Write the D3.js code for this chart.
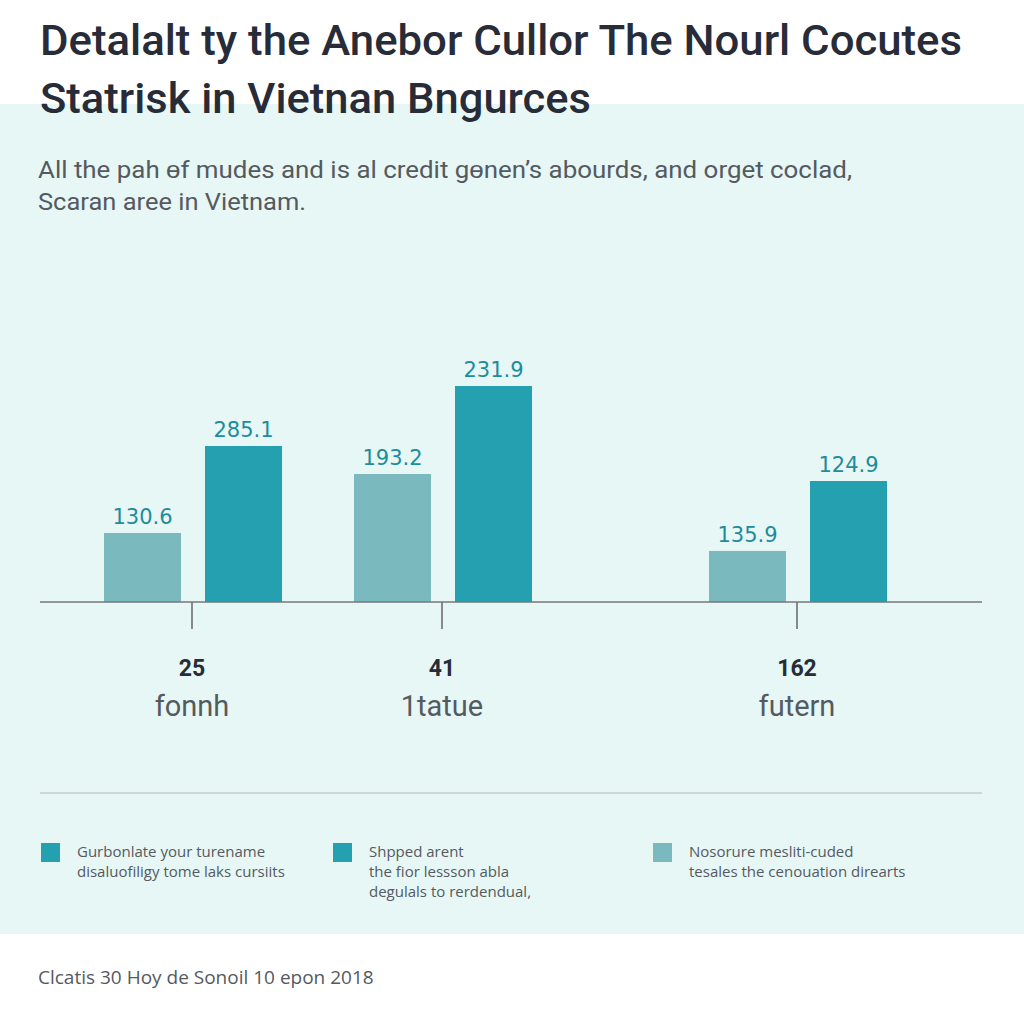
<!DOCTYPE html>
<html><head><meta charset="utf-8">
<script src="https://cdn.jsdelivr.net/npm/d3@7/dist/d3.min.js"></script>
<style>html,body{margin:0;padding:0;background:#fff;}svg{display:block;}</style>
</head><body><svg id="c" width="1024" height="1024"></svg>
<script>
// ---- data ----
const categories = ["fonnh", "1tatue", "futern"];
const categoryCounts = ["25", "41", "162"];
const seriesA = [74.1, 137.4, 54.8];    // light bars (height)
const seriesB = [167.5, 231.9, 129.9];  // dark bars
const labelsA = ["130.6", "193.2", "135.9"];
const labelsB = ["285.1", "231.9", "124.9"];
const titleLines = ["Detalalt ty the Anebor Cullor The Nourl Cocutes", "Statrisk in Vietnan Bngurces"];
const subtitleLines = ["All the pah \u0275f mudes and is al credit g\u0275nen\u2019s abourds, and orget coclad,", "Scaran aree in Vietnam."];
const legendItems = [
  ["Gurbonlate your turename", "disaluofiligy tome laks cursiits"],
  ["Shpped arent", "the fior lessson abla", "degulals to rerdendual,"],
  ["Nosorure mesliti-cuded", "tesales the cenouation direarts"]
];
const footer = "Clcatis 30 Hoy de Sonoil 10 epon 2018";

// ---- drawing ----
const svg = d3.select("#c");
const DARK = "#24a0b0", LIGHT = "#7ab9be", PANEL = "#e6f7f5";
const legendColors = [DARK, DARK, LIGHT];

svg.append("rect").attr("x",0).attr("y",0).attr("width",1024).attr("height",1024).attr("fill","#fff");
svg.append("rect").attr("x",0).attr("y",104).attr("width",1024).attr("height",830).attr("fill",PANEL);

function fitText(sel, w){ sel.attr("textLength", w).attr("lengthAdjust","spacingAndGlyphs"); }

const titleW = [922, 551];
titleLines.forEach((t,i)=>{
  const tx = svg.append("text").attr("x",40).attr("y",55 + i*58)
    .attr("font-family","Roboto, 'Liberation Sans', sans-serif").attr("font-weight",500)
    .attr("font-size",43).attr("fill","#272c38").text(t);
  fitText(tx, titleW[i]);
});
const subW = [814, 268];
subtitleLines.forEach((t,i)=>{
  const tx = svg.append("text").attr("x",38).attr("y",178 + i*32)
    .attr("font-family","Roboto, 'Liberation Sans', sans-serif")
    .attr("font-size",24).attr("fill","#555a60").text(t);
  fitText(tx, subW[i]);
});

const baseY = 602;
const y = d3.scaleLinear().domain([0, 231.9]).range([baseY, 386]);
const x = d3.scaleOrdinal().domain(categories).range([193, 443, 798]);
const inner = d3.scaleBand().domain(["A","B"]).range([-89, 89]).paddingInner(0.2376).paddingOuter(0);
const bw = inner.bandwidth();

const g = svg.append("g");
categories.forEach((c,i)=>{
  const cx = x(c);
  [["A", seriesA[i], labelsA[i], LIGHT], ["B", seriesB[i], labelsB[i], DARK]].forEach(([k,v,lab,col])=>{
    const bx = cx + inner(k);
    g.append("rect").attr("x",bx).attr("y",y(v)).attr("width",bw).attr("height",baseY - y(v)).attr("fill",col);
    g.append("text").attr("x",bx + bw/2).attr("y",y(v) - 9).attr("text-anchor","middle")
      .attr("font-family","'DejaVu Sans', sans-serif").attr("font-size",21).attr("fill","#1d8c9c").text(lab);
  });
  g.append("line").attr("x1",cx-1).attr("x2",cx-1).attr("y1",baseY).attr("y2",629).attr("stroke","#666").attr("stroke-width",1.5);
  g.append("text").attr("x",cx-1).attr("y",676).attr("text-anchor","middle")
    .attr("font-family","Roboto, sans-serif").attr("font-weight",700).attr("font-size",23).attr("fill","#272c38").text(categoryCounts[i]);
  g.append("text").attr("x",cx-1).attr("y",716).attr("text-anchor","middle")
    .attr("font-family","Roboto, sans-serif").attr("font-size",29).attr("fill","#555a60").text(c);
});
svg.append("line").attr("x1",40).attr("x2",982).attr("y1",baseY).attr("y2",baseY).attr("stroke","#777").attr("stroke-width",1.6);
svg.append("line").attr("x1",40).attr("x2",982).attr("y1",793).attr("y2",793).attr("stroke","#c3cccb").attr("stroke-width",1.6);

const legX = [41, 333, 653];
legendItems.forEach((lines,i)=>{
  svg.append("rect").attr("x",legX[i]).attr("y",843).attr("width",19).attr("height",19).attr("fill",legendColors[i]);
  lines.forEach((t,j)=>{
    svg.append("text").attr("x",legX[i] + 36).attr("y",857 + j*20)
      .attr("font-family","'Open Sans', sans-serif").attr("font-size",15).attr("fill","#555a60").text(t);
  });
});

svg.append("text").attr("x",38).attr("y",984).attr("font-family","'Open Sans', sans-serif")
  .attr("font-size",19).attr("fill","#555a60").text(footer);
</script></body></html>
